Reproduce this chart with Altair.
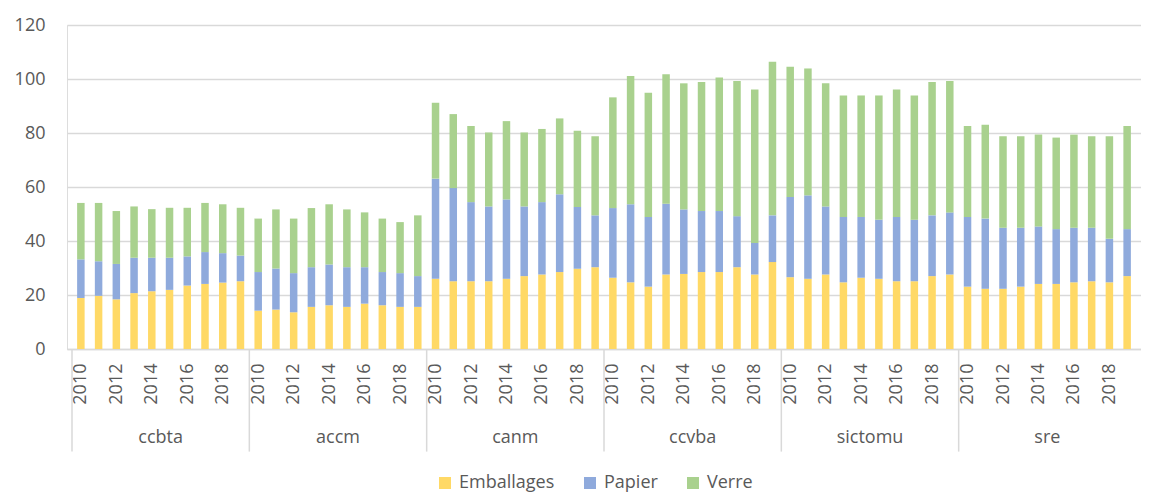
import altair as alt
import pandas as pd

groups = ["ccbta", "accm", "canm", "ccvba", "sictomu", "sre"]
years = list(range(2010, 2020))
series = ["Emballages", "Papier", "Verre"]
colors = ["#FFD966", "#8FAADC", "#A9D18E"]

emballages = {
    "ccbta":   [18.9, 19.7, 18.4, 20.7, 21.4, 21.9, 23.5, 24.1, 24.6, 25.1],
    "accm":    [14.2, 14.6, 13.6, 15.6, 16.2, 15.6, 16.8, 16.2, 15.6, 15.6],
    "canm":    [26.0, 25.1, 25.1, 25.1, 26.0, 27.0, 27.6, 28.5, 29.7, 30.3],
    "ccvba":   [26.4, 24.7, 23.1, 27.6, 27.8, 28.5, 28.5, 30.3, 27.6, 32.2],
    "sictomu": [26.6, 26.0, 27.6, 24.7, 26.4, 26.0, 25.1, 25.1, 27.0, 27.6],
    "sre":     [23.1, 22.3, 22.3, 23.1, 24.1, 24.1, 24.7, 25.1, 24.7, 27.0],
}
papier = {
    "ccbta":   [14.3, 12.8, 13.1, 13.1, 12.4, 11.9, 10.8, 11.8, 10.9, 9.5],
    "accm":    [14.3, 15.2, 14.5, 14.7, 15.1, 14.7, 13.5, 12.3, 12.5, 11.4],
    "canm":    [37.1, 34.5, 29.3, 27.7, 29.4, 25.8, 26.8, 28.8, 22.9, 19.2],
    "ccvba":   [25.8, 28.9, 25.8, 26.2, 23.9, 22.6, 22.6, 18.9, 11.7, 17.3],
    "sictomu": [29.7, 30.9, 25.2, 24.2, 22.5, 21.9, 23.8, 22.8, 22.5, 23.0],
    "sre":     [25.8, 26.0, 22.6, 21.8, 21.3, 20.3, 20.2, 19.8, 16.1, 17.4],
}
verre = {
    "ccbta":   [20.9, 21.6, 19.6, 19.0, 18.0, 18.5, 18.0, 18.2, 18.1, 17.7],
    "accm":    [19.8, 21.9, 20.2, 21.9, 22.3, 21.4, 20.3, 19.8, 18.9, 22.5],
    "canm":    [28.1, 27.4, 28.2, 27.4, 29.0, 27.4, 27.1, 28.1, 28.2, 29.3],
    "ccvba":   [41.0, 47.5, 46.0, 48.0, 46.7, 47.8, 49.5, 50.1, 56.8, 56.9],
    "sictomu": [48.2, 47.0, 45.6, 45.0, 45.0, 46.0, 47.2, 46.0, 49.4, 48.7],
    "sre":     [33.7, 34.8, 33.9, 33.9, 34.0, 33.9, 34.5, 33.9, 38.0, 38.2],
}
year_ticks = [2010, 2012, 2014, 2016, 2018]
y_ticks = [0, 20, 40, 60, 80, 100, 120]

n_years = len(years)
rows = []
for gi, g in enumerate(groups):
    for i, y in enumerate(years):
        for k, (s, src) in enumerate(zip(series, [emballages, papier, verre])):
            rows.append({"group": g, "year": y, "pos": gi * n_years + i + 0.5,
                         "serie": s, "order": k, "value": src[g][i]})
df = pd.DataFrame(rows)

grp_df = pd.DataFrame({
    "group": groups,
    "start": [gi * n_years for gi in range(len(groups))],
    "center": [gi * n_years + n_years / 2 for gi in range(len(groups))],
})

tick_pos = [gi * n_years + (y - years[0]) + 0.5 for gi in range(len(groups)) for y in year_ticks]

FONT = "Open Sans"
GRAY = "#595959"
LINE = "#D9D9D9"
W, H = 1074, 324

xscale = alt.Scale(domain=[0, n_years * len(groups)], nice=False, zero=False)
yscale = alt.Scale(domain=[0, 120], nice=False)

bars = alt.Chart(df).mark_bar(size=7.5).encode(
    x=alt.X("pos:Q", scale=xscale,
            axis=alt.Axis(title=None, values=tick_pos, tickCount=200, grid=False, ticks=False,
                          labelExpr=f"'' + ({years[0]} + (datum.value - 0.5) % {n_years})",
                          labelAngle=-90, labelPadding=14, labelFontSize=18,
                          labelColor=GRAY, labelFont=FONT, labelOverlap=False,
                          domainColor=LINE, domainWidth=1.5)),
    y=alt.Y("value:Q", stack="zero", scale=yscale,
            axis=alt.Axis(title=None, values=y_ticks, ticks=False, domain=False,
                          labelPadding=22, labelFontSize=18, labelColor=GRAY, labelFont=FONT,
                          gridColor=LINE, gridWidth=1.5)),
    color=alt.Color("serie:N", sort=series,
                    scale=alt.Scale(domain=series, range=colors),
                    legend=alt.Legend(title=None, orient="none", legendX=369, legendY=449,
                                      direction="horizontal",
                                      symbolType="square", symbolSize=144, symbolStrokeWidth=0,
                                      labelFontSize=18, labelColor=GRAY, labelFont=FONT,
                                      labelOffset=5, columnPadding=26)),
    order=alt.Order("order:Q", sort="ascending"),
)

seps = alt.Chart(grp_df).mark_rule(color=LINE, strokeWidth=1.5).encode(
    x=alt.X("start:Q", scale=xscale),
    y=alt.datum(0, scale=yscale),
    y2=alt.datum(-38),
)

labels = alt.Chart(grp_df).mark_text(fontSize=18, color=GRAY, font=FONT, baseline="middle").encode(
    x=alt.X("center:Q", scale=xscale),
    y=alt.datum(-33, scale=yscale),
    text="group:N",
)

chart = alt.layer(bars, seps, labels).properties(
    width=W, height=H,
    padding={"top": 8, "left": 6, "right": 0, "bottom": 0},
).configure_view(stroke=None).configure(font=FONT)

chart.save("out.html", embed_options={"renderer": "svg", "actions": False})
